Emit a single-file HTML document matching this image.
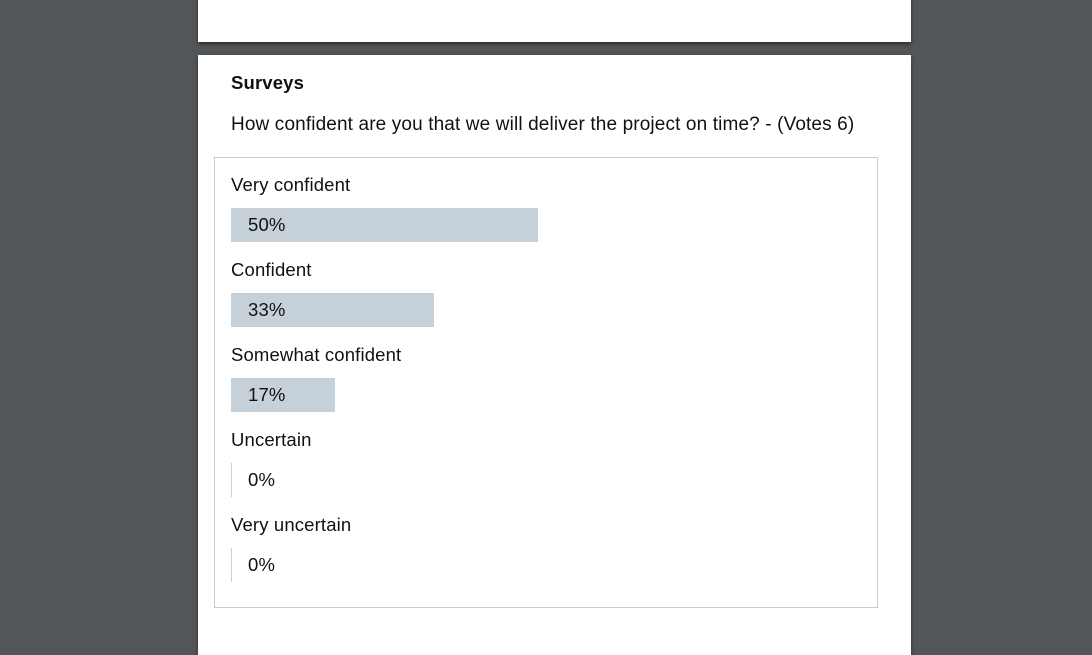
<!DOCTYPE html>
<html><head><meta charset="utf-8"><style>
body{margin:0;width:1092px;height:641px;background:#535659;overflow:hidden;font-family:"Liberation Sans",Arial,sans-serif;color:#111;position:relative}
.card{position:absolute;left:198px;width:713px;background:#fff;box-shadow:0 2px 4px rgba(0,0,0,.5)}
.lbl{position:absolute;left:231px;font-size:18.5px;letter-spacing:0.15px;line-height:20px}
.bar{position:absolute;left:231px;height:34px;background:#c5d0d8}
.pct{position:absolute;left:248px;font-size:18.5px;letter-spacing:0.15px;line-height:34px}
</style></head><body>
<div class="card" style="top:-5px;height:47px"></div>
<div class="card" style="top:55px;height:600px"></div>
<div style="position:absolute;left:231px;top:72px;font-size:18.5px;letter-spacing:0.15px;font-weight:bold">Surveys</div>
<div style="position:absolute;left:231px;top:114px;font-size:19px;letter-spacing:0.13px">How confident are you that we will deliver the project on time? - (Votes 6)</div>
<div style="position:absolute;left:214px;top:157px;width:662px;height:449px;border:1px solid #ccc"></div>
<div id="rows"></div>
<script>
const categories=["Very confident","Confident","Somewhat confident","Uncertain","Very uncertain"];
const values=[50,33,17,0,0];
const rows=document.getElementById('rows');
const full=614;
categories.forEach((c,i)=>{
  const y=175+i*85;
  const l=document.createElement('div');l.className='lbl';l.style.top=y+'px';l.textContent=c;
  
  
  rows.appendChild(l);
  const b=document.createElement('div');b.className='bar';b.style.top=(y+33)+'px';
  b.style.width=Math.max(1,values[i]/100*full)+'px';
  
  
  rows.appendChild(b);
  const p=document.createElement('div');p.className='pct';p.style.top=(y+33)+'px';p.textContent=values[i]+'%';
  
  
  rows.appendChild(p);
});
</script>
</body></html>
